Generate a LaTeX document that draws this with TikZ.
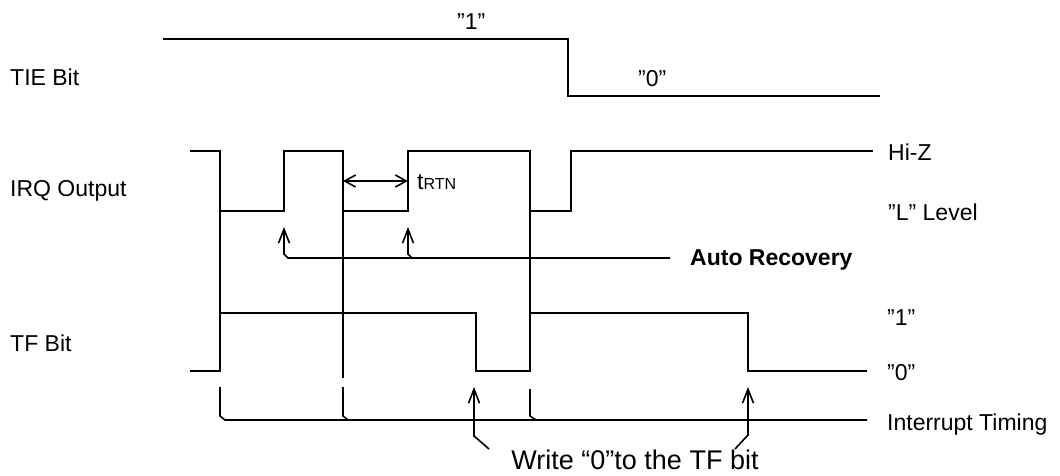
\documentclass[tikz,border=0pt]{standalone}
\usepackage{fontspec}
\setmainfont{Liberation Sans}
\usetikzlibrary{arrows.meta}
\begin{document}
\begin{tikzpicture}[x=1pt,y=-1pt,
  wave/.style={line width=1.6pt, line join=miter},
  lbl/.style={font=\fontsize{23}{27}\selectfont, inner sep=0pt, anchor=base west},
  uparrow/.style={line width=1.6pt, -{Straight Barb[length=14pt,width=11pt]}},
  dblarrow/.style={line width=1.6pt, {Straight Barb[length=11pt,width=12pt]}-{Straight Barb[length=11pt,width=12pt]}}
]
\useasboundingbox (0,0) rectangle (1060,475);

% left labels
\node[lbl] (tie) at (10,85) {TIE Bit};
\node[lbl] (irq) at (10,196) {IRQ Output};
\node[lbl] (tf) at (10,351) {TF Bit};

% TIE labels
\node[lbl] (tieone) at (457,29) {"1"};
\node[lbl] (tiezero) at (638,86) {"0"};

% right labels
\node[lbl] (hiz) at (888,160) {Hi-Z};
\node[lbl] (llevel) at (888,220) {”L” Level};
\node[lbl] (tfone) at (887,325) {”1”};
\node[lbl] (tfzero) at (887,380) {”0”};
\node[lbl] (itiming) at (887,430) {Interrupt Timing};
\node[lbl, font=\fontsize{23}{27}\selectfont\bfseries] (autorec) at (690,265) {Auto Recovery};
\node[lbl, anchor=base, font=\fontsize{27}{31}\selectfont] (write) at (635,469) {Write “0”to the TF bit};
\node[lbl] (trtn) at (417,189) {t{\fontsize{16}{18}\selectfont RTN}};

% TIE waveform
\draw[wave] (163,39) -- (568,39) -- (568,96) -- (880,96);

% IRQ waveform
\draw[wave] (190,151) -- (220,151) -- (220,211) -- (284,211) -- (284,151)
  -- (343,151) -- (343,211) -- (408,211) -- (408,151) -- (530,151)
  -- (530,211) -- (571,211) -- (571,151) -- (873,151);

% TF waveform
\draw[wave] (190,371) -- (220,371) -- (220,313) -- (476,313) -- (476,371)
  -- (530,371) -- (530,313) -- (748,313) -- (748,371) -- (867,371);

% vertical guide lines
\draw[wave] (220,211) -- (220,313);
\draw[wave] (343,211) -- (343,378);
\draw[wave] (530,211) -- (530,313);

% interrupt timing
\coordinate (it1) at (220,387);
\coordinate (it2) at (343,387);
\coordinate (it3) at (530,389);
\draw[wave] (it1) -- (220,416) -- (225,420) -- (867,420);
\draw[wave] (it2) -- (343,416) -- (348,420);
\draw[wave] (it3) -- (530,416) -- (536,420);

% auto recovery arrows
\coordinate (ar1) at (284,227);
\coordinate (ar2) at (408,227);
\draw[wave] (670,258) -- (288,258) -- (284,254);
\draw[wave] (412,258) -- (408,254);
\draw[uparrow] (284,255) -- (ar1);
\draw[uparrow] (408,255) -- (ar2);

% tRTN
\coordinate (ra) at (343,181);
\coordinate (rb) at (408,181);
\draw[dblarrow] (ra) -- (rb);

% write arrows
\coordinate (w1) at (474,387);
\coordinate (w2) at (748,387);
\draw[wave] (489,449) -- (474,436);
\draw[uparrow] (474,437) -- (w1);
\draw[wave] (735,449) -- (748,435);
\draw[uparrow] (748,436) -- (w2);
\end{tikzpicture}
\end{document}
